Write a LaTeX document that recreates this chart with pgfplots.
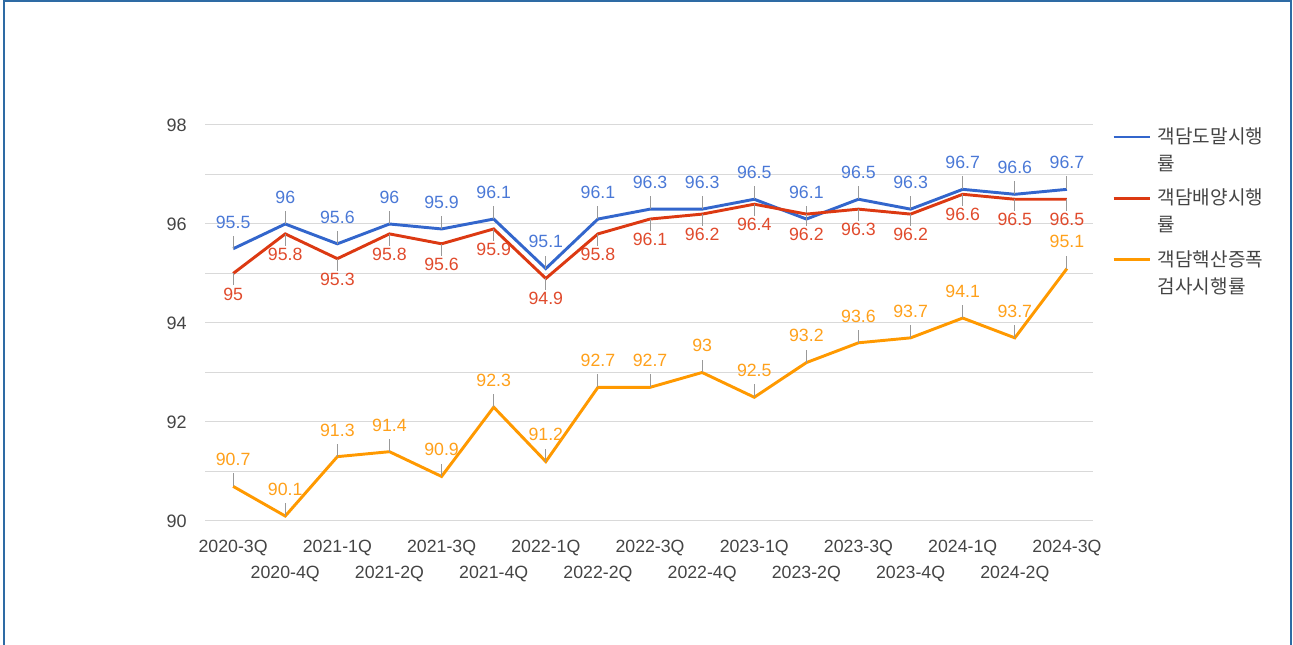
\documentclass[border=0pt]{standalone}
\usepackage{fontspec}
\setmainfont{Liberation Sans}
\newfontfamily\kr{Noto Sans CJK KR}
\usepackage{pgfplots}
\pgfplotsset{compat=1.18}
\definecolor{cblue}{HTML}{3366CC}
\definecolor{cred}{HTML}{DC3912}
\definecolor{corange}{HTML}{FF9900}
\definecolor{lblue}{HTML}{4A78D6}
\definecolor{lred}{HTML}{E04A2C}
\definecolor{lorange}{HTML}{FFA01A}
\definecolor{tgray}{HTML}{444444}
\definecolor{ggray}{HTML}{D9D9D9}
\definecolor{sgray}{HTML}{999999}
\definecolor{framec}{HTML}{2E6BA4}
\begin{document}
\begin{tikzpicture}
\useasboundingbox (0,0) rectangle (969.75pt,-483.75pt);
\draw[framec, line width=1.5pt] (3pt,-490pt) -- (3pt,-0.75pt) -- (968.25pt,-0.75pt) -- (968.25pt,-490pt);
\begin{axis}[
  at={(153.75pt,-93.75pt)}, anchor=north west,
  scale only axis, width=666pt, height=297pt,
  xmin=-0.54, xmax=16.5, ymin=90, ymax=98,
  clip=false,
  /pgf/number format/assume math mode=true,
  axis line style={draw=none},
  major tick length=0pt, minor tick length=0pt,
  ytick={90,92,94,96,98}, minor ytick={91,93,95,97},
  ymajorgrids=true, yminorgrids=true, xmajorgrids=false,
  major grid style={ggray, line width=0.75pt},
  minor grid style={ggray, line width=0.75pt},
  yticklabel style={inner sep=0pt, xshift=-13.5pt, text=tgray, font=\fontsize{13.5}{16}\selectfont},
  xtick={0,2,4,6,8,10,12,14,16},
  xticklabels={2020-3Q,2021-1Q,2021-3Q,2022-1Q,2022-3Q,2023-1Q,2023-3Q,2024-1Q,2024-3Q},
  extra x ticks={1,3,5,7,9,11,13,15},
  extra x tick labels={2020-4Q,2021-2Q,2021-4Q,2022-2Q,2022-4Q,2023-2Q,2023-4Q,2024-2Q},
  extra x tick style={xmajorgrids=false, ymajorgrids=false, major tick length=0pt, xticklabel style={yshift=-19.5pt}},
  xticklabel style={inner sep=0pt, anchor=north, yshift=-13.9pt, text=tgray, font=\fontsize{13.3}{16}\selectfont},
  legend image code/.code={\draw[#1, line width=2.2pt] (0pt,10pt) -- (27pt,10pt);},
  legend style={at={(1,1)}, anchor=north west, xshift=14.25pt, draw=none, fill=none, inner sep=0pt,
    font=\kr\fontsize{14.3}{20.3}\selectfont, text=tgray,
    cells={align=left, anchor=west}, row sep=8.25pt, column sep=3pt},
  nodes near coords style={inner sep=0pt, font=\fontsize{13.3}{16}\selectfont},
]
\addplot[cblue, line width=2.2pt, mark=none, nodes near coords,
  nodes near coords style={lblue, anchor=south, yshift=14.25pt},
  error bars/.cd, y dir=plus, y fixed=0.26, error mark=none, error bar style={sgray, line width=0.75pt}]
coordinates {(0,95.5)(1,96)(2,95.6)(3,96)(4,95.9)(5,96.1)(6,95.1)(7,96.1)(8,96.3)(9,96.3)(10,96.5)(11,96.1)(12,96.5)(13,96.3)(14,96.7)(15,96.6)(16,96.7)};
\addlegendentry{객담도말시행\\률}
\addplot[cred, line width=2.2pt, mark=none, nodes near coords,
  nodes near coords style={lred, anchor=north, yshift=-9.5pt},
  error bars/.cd, y dir=minus, y fixed=0.24, error mark=none, error bar style={sgray, line width=0.75pt}]
coordinates {(0,95)(1,95.8)(2,95.3)(3,95.8)(4,95.6)(5,95.9)(6,94.9)(7,95.8)(8,96.1)(9,96.2)(10,96.4)(11,96.2)(12,96.3)(13,96.2)(14,96.6)(15,96.5)(16,96.5)};
\addlegendentry{객담배양시행\\률}
\addplot[corange, line width=2.2pt, mark=none, nodes near coords,
  nodes near coords style={lorange, anchor=south, yshift=14.25pt},
  error bars/.cd, y dir=plus, y fixed=0.26, error mark=none, error bar style={sgray, line width=0.75pt}]
coordinates {(0,90.7)(1,90.1)(2,91.3)(3,91.4)(4,90.9)(5,92.3)(6,91.2)(7,92.7)(8,92.7)(9,93)(10,92.5)(11,93.2)(12,93.6)(13,93.7)(14,94.1)(15,93.7)(16,95.1)};
\addlegendentry{객담핵산증폭\\검사시행률}
\end{axis}
\end{tikzpicture}
\end{document}
